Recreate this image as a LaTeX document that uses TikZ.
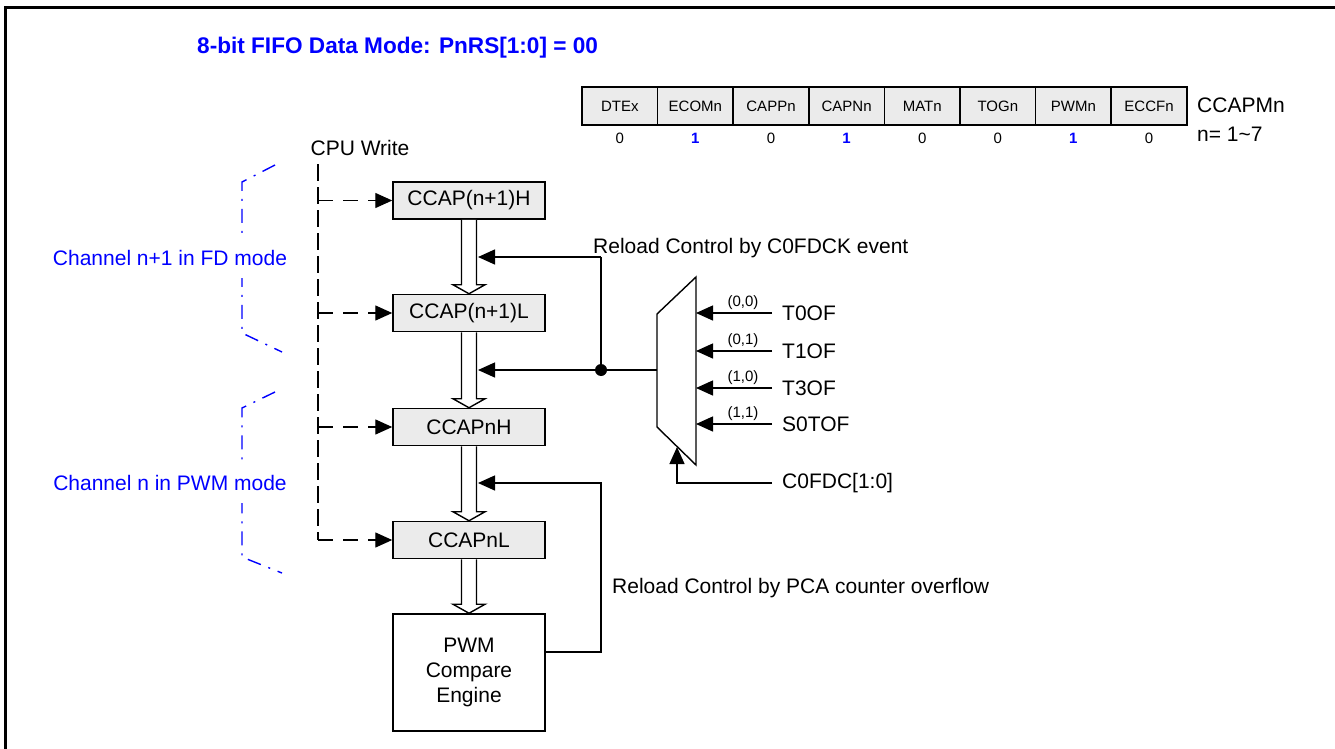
\documentclass[tikz,border=0pt]{standalone}
\usepackage{fontspec}
\setmainfont{Liberation Sans}
\usetikzlibrary{arrows.meta,calc}
\definecolor{boxgray}{RGB}{235,235,235}
\definecolor{chblue}{RGB}{0,0,255}
\newcommand\hollowarrow[2]{%
  \filldraw[fill=white,line width=1.4pt,line join=miter] let \p1=(#1.south), \p2=(#2.north) in
  (\x1-7.5pt,\y1) -- (\x1-7.5pt,\y2+9pt) -- (\x1-16pt,\y2+9pt) -- (\x1,\y2)
  -- (\x1+16pt,\y2+9pt) -- (\x1+7.5pt,\y2+9pt) -- (\x1+7.5pt,\y1);}
\begin{document}
\begin{tikzpicture}[x=1pt,y=-1pt,
  base/.style={font=\fontsize{21}{24}\selectfont,inner sep=0pt},
  small/.style={font=\fontsize{15}{17}\selectfont,inner sep=0pt},
  regbox/.style={draw,line width=1.5pt,fill=boxgray,minimum width=152pt,minimum height=37pt,inner sep=0pt,font=\fontsize{21}{24}\selectfont},
  cell/.style={draw,line width=1.5pt,fill=boxgray,minimum width=75.6pt,minimum height=38pt,inner sep=0pt,font=\fontsize{15}{17}\selectfont},
  wire/.style={line width=1.4pt},
  arr/.style={wire,-{Triangle[length=17pt,width=15pt]}},
  hdash/.style={arr,dash pattern=on 15pt off 10pt},
  vdash/.style={wire,dash pattern=on 17pt off 6pt},
  bracket/.style={chblue,line width=1.4pt,dash pattern=on 14pt off 8pt on 2pt off 8pt},
  chlabel/.style={font=\fontsize{21}{24}\selectfont,text=chblue,fill=white,inner xsep=1pt,inner ysep=12pt}
]
\useasboundingbox (0,0) rectangle (1335,749);
% frame
\draw[line width=3pt] (5,749) -- (5,7.5) -- (1335,7.5);
% title
\node[anchor=west,inner sep=0pt,text=chblue,font=\bfseries\fontsize{22.6}{26}\selectfont] (title) at (197,48) {8-bit FIFO Data Mode: PnRS[1:0] = 00};
% register
\foreach \n [count=\i from 0] in {DTEx,ECOMn,CAPPn,CAPNn,MATn,TOGn,PWMn,ECCFn}
  \node[cell] (c\i) at ({582+75.6*(\i+0.5)},106) {\n};
\foreach \v/\c [count=\i from 0] in {0/black,1/chblue,0/black,1/chblue,0/black,0/black,1/chblue,0/black}
  \node[small,text=\c] (v\i) at ({582+75.6*(\i+0.5)},138) {\ifnum\v=1 \textbf{1}\else 0\fi};
\node[base,anchor=west] (ccapm) at (1197,105) {CCAPMn};
\node[base,anchor=west] (nrange) at (1197,134) {n= 1\textasciitilde7};
% boxes
\node[regbox] (h1) at (469,200.5) {CCAP(n+1)H};
\node[regbox] (l1) at (469,313) {CCAP(n+1)L};
\node[regbox] (h0) at (469,427) {CCAPnH};
\node[regbox] (l0) at (469,540) {CCAPnL};
\node[draw,line width=1.5pt,fill=white,minimum width=152pt,minimum height=117pt,inner sep=0pt,align=center,font=\fontsize{21}{25}\selectfont] (pwm) at (469,672.5) {PWM\\Compare\\Engine};
% hollow arrows
\hollowarrow{h1}{l1}
\hollowarrow{l1}{h0}
\hollowarrow{h0}{l0}
\hollowarrow{l0}{pwm}
% CPU write
\node[base] (cpu) at (360,148) {CPU Write};
\coordinate (vtop) at (318,164);
\coordinate (vbot) at (318,540);
\draw[vdash] (vtop) -- (vbot);
\foreach \b in {h1,l1,h0,l0}
  \draw[hdash] (vtop |- \b.west) -- (\b.west);
% channel brackets
\draw[bracket] (275,165) -- (242,182) -- (242,333) -- (282,352);
\node[chlabel] (ch1) at (170,258) {Channel n+1 in FD mode};
\draw[bracket] (275,392) -- (242,408) -- (242,557) -- (282,573);
\node[chlabel] (ch0) at (170,483) {Channel n in PWM mode};
% shaft target points
\coordinate (a0) at ($(h1.south)+(9,0)$);
\coordinate (a1) at ($(l1.south)+(9,0)$);
\coordinate (a2) at ($(h0.south)+(9,0)$);
% mux
\coordinate (m1) at (657,314);
\coordinate (m2) at (696,277);
\coordinate (m3) at (696,465);
\coordinate (m4) at (657,427);
\draw[wire,line join=miter] (m1) -- (m2) -- (m3) -- (m4) -- cycle;
\coordinate (mout) at (657,370);
\coordinate (j) at (601,370);
\coordinate (k1) at (601,257);
\draw[wire] (mout) -- (j);
\draw[arr] (j) -- (j -| a1);
\draw[wire] (j) -- (k1);
\draw[arr] (k1) -- (k1 -| a0);
\fill (j) circle (6pt);
\node[base,anchor=south west] (rl1) at (593,258) {Reload Control by C0FDCK event};
% mux inputs
\foreach \name/\lab/\yy [count=\i] in {T0OF/{(0,0)}/313,T1OF/{(0,1)}/351,T3OF/{(1,0)}/388,S0TOF/{(1,1)}/424}{
  \node[base,anchor=west,inner xsep=10pt] (in\i) at (772,\yy) {\name};
  \draw[arr] (in\i.west) -- (in\i.west -| m2);
  \node[small] (lb\i) at (743,\yy-10) {\lab};
}
\node[base,anchor=west,inner xsep=10pt] (sel) at (772,483) {C0FDC[1:0]};
\coordinate (selin) at (677,447);
\draw[arr] (sel.west) -| (selin);
% PCA feedback
\coordinate (p2) at (601,652);
\coordinate (k2) at (601,483);
\draw[arr] (pwm.east |- p2) -- (p2) -- (k2) -- (k2 -| a2);
\node[base,anchor=west] (rl2) at (612,588) {Reload Control by PCA counter overflow};
\end{tikzpicture}
\end{document}
